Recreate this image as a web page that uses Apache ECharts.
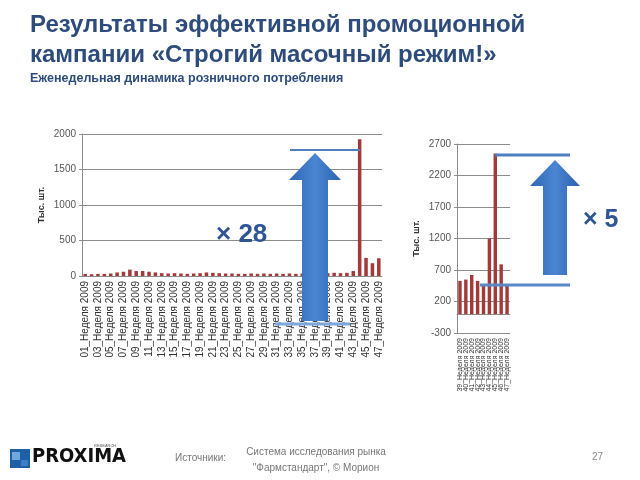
<!DOCTYPE html>
<html>
<head>
<meta charset="utf-8">
<script src="https://cdn.jsdelivr.net/npm/echarts@6/dist/echarts.min.js"></script>
<style>
  html, body { margin: 0; padding: 0; background: #fff; }
  #main { width: 640px; height: 480px; }
</style>
</head>
<body>
<div id="main"></div>
<script>
// недели 2009 года, левый график (01..47)
var weeksAll = [];
for (var i = 1; i <= 47; i++) {
  weeksAll.push((i < 10 ? "0" + i : "" + i) + "_Неделя 2009");
}
var salesAll = [30, 25, 30, 30, 35, 50, 60, 90, 70, 70, 60, 50, 40, 35, 40, 35,
  30, 35, 40, 50, 45, 40, 35, 35, 30, 30, 35, 30, 35, 30, 35, 30, 35, 30, 35,
  30, 30, 35, 40, 45, 40, 45, 70, 1925, 255, 180, 250];

// правый график, недели 39..47
var weeksLate = ["39_Неделя 2009", "40_Неделя 2009", "41_Неделя 2009",
  "42_Неделя 2009", "43_Неделя 2009", "44_Неделя 2009", "45_Неделя 2009",
  "46_Неделя 2009", "47_Неделя 2009"];
var salesLate = [527, 548, 621, 527, 463, 1200, 2548, 790, 475];

var leftTicks = [0, 500, 1000, 1500, 2000];
var rightTicks = [-300, 200, 700, 1200, 1700, 2200, 2700];

var barColor = "#A33A3A";
var gridColor = "#8c8c8c";
var font = "Liberation Sans, Arial, sans-serif";

var arrowFill = new echarts.graphic.LinearGradient(0, 0, 1, 0, [
  { offset: 0, color: "#2F67B5" },
  { offset: 0.5, color: "#4A86D2" },
  { offset: 1, color: "#2C62AE" }
]);

function arrow(tipX, tipY, headY, headL, headR, shaftL, shaftR, bottom) {
  return {
    type: "polygon",
    z: 10,
    shape: {
      points: [[tipX, tipY], [headR, headY], [shaftR, headY], [shaftR, bottom],
        [shaftL, bottom], [shaftL, headY], [headL, headY]]
    },
    style: { fill: arrowFill }
  };
}

function hline(x1, x2, y, color, w) {
  return {
    type: "line", z: 9,
    shape: { x1: x1, y1: y, x2: x2, y2: y },
    style: { stroke: color, lineWidth: w }
  };
}

function plain(v) { return String(v); }

var chart = echarts.init(document.getElementById("main"));
chart.setOption({
  animation: false,
  backgroundColor: "#fff",
  title: {
    text: "Результаты эффективной промоционной\nкампании «Строгий масочный режим!»",
    subtext: "Еженедельная динамика розничного потребления",
    left: 25,
    top: 5,
    itemGap: 2,
    textStyle: { fontFamily: font, fontSize: 24, fontWeight: "bold", color: "#2D4B7B", lineHeight: 30 },
    subtextStyle: { fontFamily: font, fontSize: 12.5, fontWeight: "bold", color: "#2D4B7B" }
  },
  grid: [
    { left: 82, right: 258, top: 134, bottom: 204 },
    { left: 457, right: 130, top: 144, bottom: 147 }
  ],
  xAxis: [
    {
      gridIndex: 0,
      type: "category",
      data: weeksAll,
      axisLine: { lineStyle: { color: gridColor } },
      axisTick: { interval: 0, length: 3, lineStyle: { color: gridColor } },
      axisLabel: { interval: 1, rotate: 90, fontSize: 10, color: "#333", margin: 5, fontFamily: font }
    },
    {
      gridIndex: 1,
      type: "category",
      data: weeksLate,
      axisLine: { onZero: true, lineStyle: { color: gridColor } },
      axisTick: { interval: 0, length: 3, lineStyle: { color: gridColor } },
      axisLabel: { interval: 0, rotate: 90, fontSize: 7, color: "#333", margin: 5, fontFamily: font }
    }
  ],
  yAxis: [
    {
      gridIndex: 0,
      type: "value",
      min: leftTicks[0],
      max: leftTicks[leftTicks.length - 1],
      interval: 500,
      name: "Тыс. шт.",
      nameLocation: "middle",
      nameGap: 36,
      nameTextStyle: { fontFamily: font, fontSize: 9, fontWeight: "bold", color: "#333" },
      axisLine: { show: true, lineStyle: { color: gridColor } },
      axisTick: { show: true, length: 3, lineStyle: { color: gridColor } },
      axisLabel: { fontSize: 10, color: "#555", margin: 6, fontFamily: font, formatter: plain },
      splitLine: { lineStyle: { color: gridColor, width: 1 } }
    },
    {
      gridIndex: 1,
      type: "value",
      min: rightTicks[0],
      max: rightTicks[rightTicks.length - 1],
      interval: 500,
      name: "Тыс. шт.",
      nameLocation: "middle",
      nameGap: 36,
      nameTextStyle: { fontFamily: font, fontSize: 9, fontWeight: "bold", color: "#333" },
      axisLine: { show: true, onZero: false, lineStyle: { color: gridColor } },
      axisTick: { show: true, length: 3, lineStyle: { color: gridColor } },
      axisLabel: { fontSize: 10, color: "#555", margin: 6, fontFamily: font, formatter: plain },
      splitLine: { lineStyle: { color: gridColor, width: 1 } }
    }
  ],
  series: [
    {
      type: "bar",
      xAxisIndex: 0,
      yAxisIndex: 0,
      data: salesAll,
      barCategoryGap: "45%",
      itemStyle: { color: barColor }
    },
    {
      type: "bar",
      xAxisIndex: 1,
      yAxisIndex: 1,
      data: salesLate,
      barCategoryGap: "42%",
      itemStyle: { color: barColor }
    }
  ],
  graphic: [
    // левая стрелка «× 28»
    hline(290, 360, 150, "#4F7FBF", 2),
    hline(275, 350, 324, "#7BA7DC", 3),
    arrow(315, 153, 180, 289, 341, 302, 328, 321),
    {
      type: "text", left: 216, top: 222, z: 11,
      style: { text: "× 28", font: "bold 26px " + font, fill: "#2E5594" }
    },
    // правая стрелка «× 5»
    hline(495, 570, 155, "#4F7FBF", 3),
    hline(480, 570, 285, "#5A88C6", 3),
    arrow(555, 160, 186, 530, 580, 543, 567, 275),
    hline(543, 567, 266, "#ffffff", 1),
    hline(543, 567, 270, "#ffffff", 1),
    {
      type: "text", left: 583, top: 208, z: 11,
      style: { text: "× 5", font: "bold 25px " + font, fill: "#2E5594" }
    },
    // логотип
    { type: "rect", shape: { x: 10, y: 449, width: 20, height: 19 }, style: { fill: "#1F5FA8" } },
    { type: "rect", shape: { x: 12, y: 452, width: 8, height: 8 }, style: { fill: "#6FA8DC" } },
    { type: "rect", shape: { x: 21, y: 460, width: 7, height: 6 }, style: { fill: "#3C7FC9" } },
    {
      type: "text", x: 32, y: 447,
      style: { text: "PROXIMA", font: "bold 20px 'DejaVu Sans Condensed', " + font, fill: "#111" }
    },
    {
      type: "text", x: 94, y: 444,
      style: { text: "RESEARCH", font: "4px " + font, fill: "#555" }
    },
    // подпись источников
    {
      type: "text", x: 175, y: 453,
      style: { text: "Источники:", font: "10px " + font, fill: "#777" }
    },
    {
      type: "text", x: 316, y: 444,
      style: { text: "Система исследования рынка\n\"Фармстандарт\", © Морион", font: "10px " + font, fill: "#777", align: "center", lineHeight: 16 }
    },
    {
      type: "text", x: 592, y: 452,
      style: { text: "27", font: "10px " + font, fill: "#888" }
    }
  ]
});
</script>
</body>
</html>
